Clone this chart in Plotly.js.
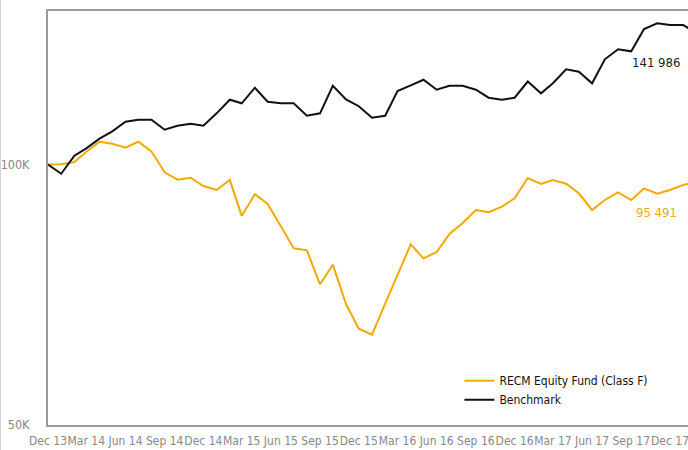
<!DOCTYPE html>
<html>
<head>
<meta charset="utf-8">
<script src="https://cdn.plot.ly/plotly-3.0.1.min.js"></script>
<style>
  html, body { margin: 0; padding: 0; overflow: hidden; background: #fff; width: 688px; height: 450px; }
  #chart { position: absolute; left: 0; top: 0; width: 720px; height: 450px; }
  #chart svg text { font-stretch: condensed; }
  #edge { position: absolute; left: 0; top: 0; width: 1px; height: 450px; background: #d4d4d4; z-index: 5; }
</style>
</head>
<body>
<div id="chart"></div>
<div id="edge"></div>
<script>
// Monthly observation dates (Dec 2013 - Feb 2018)
const months = [
  '2013-12-01','2014-01-01','2014-02-01','2014-03-01','2014-04-01','2014-05-01','2014-06-01','2014-07-01','2014-08-01','2014-09-01','2014-10-01','2014-11-01',
  '2014-12-01','2015-01-01','2015-02-01','2015-03-01','2015-04-01','2015-05-01','2015-06-01','2015-07-01','2015-08-01','2015-09-01','2015-10-01','2015-11-01',
  '2015-12-01','2016-01-01','2016-02-01','2016-03-01','2016-04-01','2016-05-01','2016-06-01','2016-07-01','2016-08-01','2016-09-01','2016-10-01','2016-11-01',
  '2016-12-01','2017-01-01','2017-02-01','2017-03-01','2017-04-01','2017-05-01','2017-06-01','2017-07-01','2017-08-01','2017-09-01','2017-10-01','2017-11-01',
  '2017-12-01','2018-01-01','2018-02-01'
];

// Growth of 100 000 invested
const fundValues = [
  100000,100100,100670,103460,106250,105690,104570,106250,103570,97950,96040,96550,
  94440,93440,95960,87240,92380,90020,84840,80020,79590,72710,76600,68990,
  64600,63580,69080,74730,80870,77910,79230,83120,85590,88600,88060,89380,
  91400,96470,94940,95960,95020,92620,88600,90990,92870,90990,93860,92530,
  93440,94690,95491
];
const benchValues = [
  100000,97580,102370,104400,107110,109240,112060,112660,112660,109700,110880,111470,
  110880,114590,118820,117680,122670,118190,117680,117680,113860,114590,123330,118940,
  116780,113260,113860,121600,123460,125310,122020,123330,123330,122020,119450,118820,
  119450,124710,120860,124120,128830,128010,124120,132300,135870,135150,143410,145600,
  144940,144940,141986
];

const seriesNames = ['RECM Equity Fund (Class F)', 'Benchmark'];
const seriesColors = ['#f2a900', '#111111'];
const yTickVals = [50000, 100000];
const yTickText = ['50K', '100K'];
const endLabels = ['95 491', '141 986'];

const FONT = '"DejaVu Sans Condensed", "Liberation Sans Narrow", "Liberation Sans", sans-serif';

const traces = [
  { x: months, y: fundValues, name: seriesNames[0], type: 'scatter', mode: 'lines',
    line: { color: seriesColors[0], width: 2 }, hoverinfo: 'skip' },
  { x: months, y: benchValues, name: seriesNames[1], type: 'scatter', mode: 'lines',
    line: { color: seriesColors[1], width: 2 }, hoverinfo: 'skip' }
];

const last = months.length - 1;
const layout = {
  width: 720, height: 450,
  margin: { l: 48, r: 20, t: 11, b: 25, pad: 0 },
  paper_bgcolor: '#fff', plot_bgcolor: '#fff',
  font: { family: FONT, size: 12, color: '#888' },
  showlegend: true,
  legend: {
    x: 0.631, y: 0.142, xanchor: 'left', yanchor: 'top',
    bgcolor: 'rgba(0,0,0,0)', borderwidth: 0,
    font: { family: FONT, size: 12, color: '#111' },
    tracegroupgap: 0
  },
  xaxis: {
    type: 'date',
    range: ['2013-12-01', '2018-02-09 12:00'],
    tick0: '2013-12-01', dtick: 'M3', tickformat: '%b %y', tickangle: 0,
    showgrid: false, zeroline: false,
    showline: true, linecolor: '#9a9a9a', linewidth: 2, mirror: true,
    ticks: 'outside', ticklen: 4, tickcolor: 'rgba(0,0,0,0)',
    tickfont: { family: FONT, size: 12, color: '#888' }
  },
  yaxis: {
    type: 'log',
    range: [Math.log10(50000), 5.1774],
    tickvals: yTickVals, ticktext: yTickText,
    showgrid: false, zeroline: false,
    showline: true, linecolor: '#9a9a9a', linewidth: 2, mirror: true,
    ticks: 'outside', ticklen: 14, tickcolor: 'rgba(0,0,0,0)',
    tickfont: { family: FONT, size: 12.5, color: '#888' }
  },
  annotations: [
    { x: months[last], y: Math.log10(fundValues[last]), xref: 'x', yref: 'y',
      text: endLabels[0], showarrow: false, xanchor: 'right', yanchor: 'middle',
      xshift: -17, yshift: -31, font: { family: FONT, size: 13, color: seriesColors[0] } },
    { x: months[last], y: Math.log10(benchValues[last]), xref: 'x', yref: 'y',
      text: endLabels[1], showarrow: false, xanchor: 'right', yanchor: 'middle',
      xshift: -14, yshift: -30, font: { family: FONT, size: 13, color: '#222' } }
  ]
};

Plotly.newPlot('chart', traces, layout, { staticPlot: true, displayModeBar: false });
</script>
</body>
</html>
